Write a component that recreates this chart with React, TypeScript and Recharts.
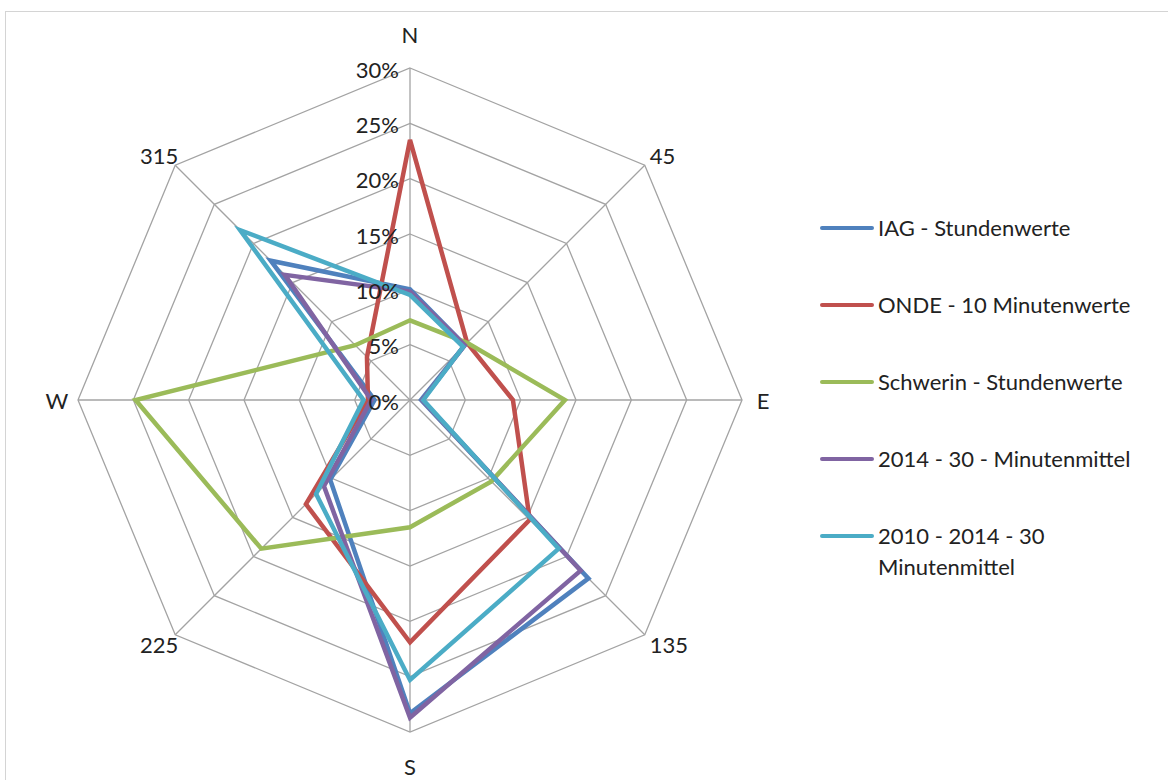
import { RadarChart, Radar, PolarGrid, PolarAngleAxis, PolarRadiusAxis } from 'recharts';

// Wind directions (angle axis)
const directions = ['N', '45', 'E', '135', 'S', '225', 'W', '315'];

// Frequency in % per direction
const iagStundenwerte = [10, 7, 1.0, 22.8, 28.3, 10.2, 3.2, 17.8];
const ondeMinutenwerte = [23.5, 7.3, 9.3, 15.3, 21.9, 13.3, 3.8, 5.5];
const schwerinStundenwerte = [7.2, 7.3, 14, 10.4, 11.5, 19, 24.8, 7];
const mittel2014 = [9.8, 7, 1.1, 21.8, 28.7, 11, 3.5, 16];
const mittel2010bis2014 = [9.5, 6.8, 1.2, 19, 25.3, 12, 4.2, 21.7];

const radiusTicks = [0, 5, 10, 15, 20, 25, 30];

const SERIES = [
  { key: 'iag', name: 'IAG - Stundenwerte', color: '#4f81bd', values: iagStundenwerte },
  { key: 'onde', name: 'ONDE - 10 Minutenwerte', color: '#c0504d', values: ondeMinutenwerte },
  { key: 'schwerin', name: 'Schwerin - Stundenwerte', color: '#9bbb59', values: schwerinStundenwerte },
  { key: 'm2014', name: '2014 - 30 - Minutenmittel', color: '#8064a2', values: mittel2014 },
  { key: 'm2010', name: '2010 - 2014 - 30 Minutenmittel', color: '#4bacc6', values: mittel2010bis2014 },
];

const data = directions.map((dir, i) => {
  const row: Record<string, string | number> = { dir };
  SERIES.forEach(s => {
    row[s.key] = s.values[i];
  });
  return row;
});

const CX = 410;
const CY = 400;
const R = 332;
const FONT = 'Lato, "Open Sans", sans-serif';

function AngleTick(props: any) {
  const { payload } = props;
  const i = directions.indexOf(payload.value);
  const angle = ((90 - i * 45) * Math.PI) / 180;
  const cos = Math.round(Math.cos(angle) * 1000) / 1000;
  const sin = Math.round(Math.sin(angle) * 1000) / 1000;
  let x: number;
  let y: number;
  let anchor: 'start' | 'middle' | 'end' = 'middle';
  if (cos === 0) {
    x = CX;
    y = CY - (R + 34) * sin;
  } else if (sin === 0) {
    x = CX + (R + 21) * cos;
    y = CY;
  } else {
    x = CX + R * cos + (cos > 0 ? 5 : 3);
    y = CY - R * sin - (sin > 0 ? 10 : -10);
    anchor = cos > 0 ? 'start' : 'end';
  }
  return (
    <text x={x} y={y} textAnchor={anchor} dominantBaseline="central" fontSize={22} fill="#222" fontFamily={FONT}>
      {payload.value}
    </text>
  );
}

function RadiusTick(props: any) {
  const { x, y, payload } = props;
  return (
    <text x={x - 11} y={y + 1} textAnchor="end" dominantBaseline="central" fontSize={22} fill="#222" fontFamily={FONT}>
      {`${payload.value}%`}
    </text>
  );
}

function WindLegend() {
  return (
    <div style={{ position: 'absolute', left: 820, top: 212, fontFamily: FONT, fontSize: 22, color: '#222' }}>
      {SERIES.map(s => (
        <div key={s.key} style={{ display: 'flex', alignItems: 'flex-start', height: 77 }}>
          <span style={{ width: 54, height: 4, background: s.color, marginTop: 14, borderRadius: 2, flex: 'none' }} />
          <span style={{ marginLeft: 4, lineHeight: '31px', width: 285 }}>{s.name}</span>
        </div>
      ))}
    </div>
  );
}

export default function App() {
  return (
    <div style={{ position: 'relative', width: 1168, height: 780, background: '#fff', overflow: 'hidden' }}>
      <style>{'body{margin:0;}'}</style>
      <div
        style={{
          position: 'absolute',
          left: 5,
          top: 11,
          width: 1170,
          height: 780,
          borderTop: '1px solid #d4d4d4',
          borderLeft: '1px solid #d4d4d4',
        }}
      />
      <div style={{ position: 'absolute', left: 0, top: 0 }}>
        <RadarChart
          width={1168}
          height={780}
          data={data}
          cx={CX}
          cy={CY}
          outerRadius={R}
          margin={{ top: 0, right: 0, bottom: 0, left: 0 }}
        >
          <PolarGrid gridType="polygon" stroke="#a3a3a3" strokeWidth={1.3} />
          <PolarAngleAxis dataKey="dir" tick={<AngleTick />} tickLine={false} axisLine={false} />
          <PolarRadiusAxis
            angle={90}
            domain={[0, 30]}
            ticks={radiusTicks}
            tickCount={7}
            orientation="left"
            axisLine={false}
            tick={<RadiusTick />}
          />
          {SERIES.map(s => (
            <Radar
              key={s.key}
              name={s.name}
              dataKey={s.key}
              stroke={s.color}
              strokeWidth={4.5}
              fill="none"
              fillOpacity={0}
              dot={false}
              isAnimationActive={false}
            />
          ))}
        </RadarChart>
      </div>
      <WindLegend />
    </div>
  );
}
